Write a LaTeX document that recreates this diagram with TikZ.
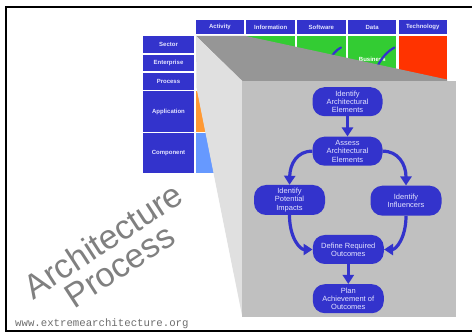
\documentclass[tikz,border=0pt]{standalone}
\usepackage{fontspec}
\setmainfont{Liberation Sans}
\setmonofont{Liberation Mono}
\usetikzlibrary{arrows.meta}
\definecolor{hdrblue}{RGB}{51,51,204}
\definecolor{txtlav}{RGB}{228,228,255}
\definecolor{cgreen}{RGB}{51,204,51}
\definecolor{cred}{RGB}{255,51,0}
\definecolor{corange}{RGB}{255,153,51}
\definecolor{clblue}{RGB}{102,153,255}
\definecolor{gdark}{RGB}{150,150,150}
\definecolor{gmid}{RGB}{192,192,192}
\definecolor{glight}{RGB}{224,224,224}
\definecolor{txtgray}{RGB}{128,128,128}
\definecolor{urlgray}{RGB}{110,110,110}
\tikzset{
  hdr/.style={fill=hdrblue, text=txtlav, inner sep=0pt,
    font=\bfseries\fontsize{6}{7}\selectfont},
  colhdr/.style={hdr, minimum width=48.5pt, minimum height=14pt},
  rowhdr/.style={hdr, minimum width=51.6pt},
  flow/.style={fill=hdrblue, text=txtlav, rounded corners=12pt, inner sep=0pt,
    minimum width=70pt, minimum height=29pt, align=center,
    font=\fontsize{7.5}{8.3}\selectfont},
  flowarrow/.style={draw=hdrblue, line width=3.2pt,
    -{Triangle[width=11pt,length=9pt]}},
  swoosh/.style={draw=hdrblue, line width=2.2pt, line cap=round},
  bigtext/.style={text=txtgray, font=\fontsize{34}{30}\selectfont, inner sep=0pt,
    align=center, rotate=33}
}
\begin{document}
\begin{tikzpicture}[x=1pt,y=-1pt]
\useasboundingbox (0,0) rectangle (472,334);
\fill[white] (0,0) rectangle (472,334);
% frame
\draw[line width=2pt] (480,7) -- (6,7) -- (6,331.5) -- (480,331.5);
% column headers
\node[colhdr] (activity) at (220,27) {Activity};
\node[colhdr] (information) at (270.7,27) {Information};
\node[colhdr] (software) at (321.4,27) {Software};
\node[colhdr] (data) at (372.1,27) {Data};
\node[colhdr] (technology) at (422.8,27) {Technology};
% row headers
\node[rowhdr, minimum height=16.4pt] (sector) at (168.5,44.5) {Sector};
\node[rowhdr, minimum height=16.4pt] (enterprise) at (168.5,62.9) {Enterprise};
\node[rowhdr, minimum height=16.4pt] (process) at (168.5,81.5) {Process};
\node[rowhdr, minimum height=40.4pt] (application) at (168.5,111.5) {Application};
\node[rowhdr, minimum height=40pt] (component) at (168.5,153.3) {Component};
% cells
\fill[cgreen] (246.3,36.3) rectangle (295,90);
\fill[cgreen] (297,36.3) rectangle (345.5,90);
\fill[cgreen] (347.7,36.3) rectangle (396.3,90);
\fill[cred] (398.5,36.3) rectangle (447,90);
\fill[corange] (196,91.3) rectangle (245,131.7);
\fill[clblue] (196,133.3) rectangle (245,173.3);
\node[text=white, inner sep=0pt, font=\bfseries\fontsize{6}{7}\selectfont] (business) at (372.3,59) {Business};
\draw[swoosh] (341,47.5) .. controls (336,50) and (332,55) .. (329,61);
\draw[swoosh] (394.5,47.5) .. controls (388,51) and (382,57) .. (377,67);
% projection
\fill[gdark] (196,36) -- (246,36) -- (447,79.5) -- (447,81) -- (242,81) -- cycle;
\fill[glight] (196,36) -- (242.3,81) -- (242.3,316.7) -- (196.5,88) -- cycle;
\fill[gmid] (242.3,81) rectangle (455.7,316.7);
% flow nodes
\node[flow] (n1) at (347.5,101.7) {Identify\\Architectural\\Elements};
\node[flow] (n2) at (347.5,151.2) {Assess\\Architectural\\Elements};
\node[flow, minimum width=71pt, minimum height=30pt] (n3) at (289.5,200) {Identify\\Potential\\Impacts};
\node[flow, minimum width=71pt, minimum height=30pt] (n4) at (406,200.7) {Identify\\Influencers};
\node[flow, minimum width=71pt] (n5) at (348.3,249.5) {Define Required\\Outcomes};
\node[flow, minimum width=71pt] (n6) at (348.3,298.7) {Plan\\Achievement of\\Outcomes};
% arrows
\draw[flowarrow] (n1.south) -- (n2.north);
\draw[flowarrow] (n2.west) .. controls (297,151) and (290,164) .. (n3.north);
\draw[flowarrow] (n2.east) .. controls (398,151) and (406,164) .. (n4.north);
\draw[flowarrow] (n3.south) .. controls (289.5,238) and (300,249.5) .. (n5.west);
\draw[flowarrow] (n4.south) .. controls (406,238) and (396,249.5) .. (n5.east);
\draw[flowarrow] (n5.south) -- (n6.north);
% watermark text
\node[bigtext] (watermark) at (111,253) {Architecture\\Process};
\node[text=urlgray, anchor=west, inner sep=0pt, font=\ttfamily\fontsize{10.7}{12}\selectfont] (url) at (15,324) {www.extremearchitecture.org};
\end{tikzpicture}
\end{document}
